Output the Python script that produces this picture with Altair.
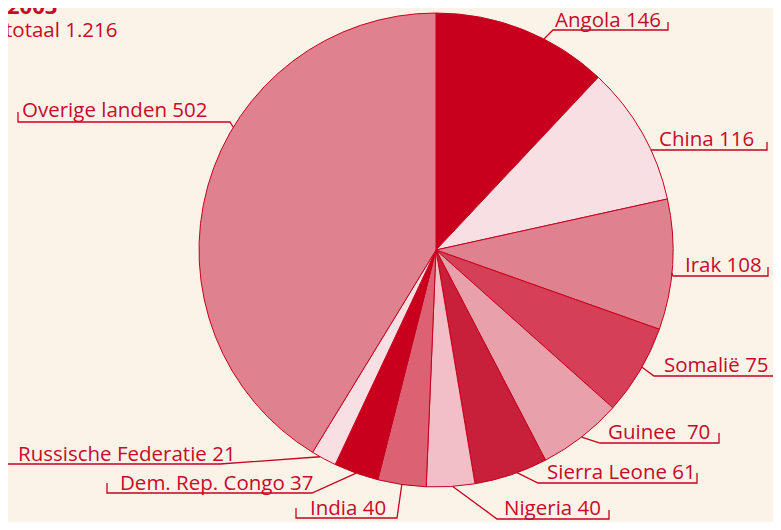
import math
import altair as alt
import pandas as pd

# ---- data ----
countries = ["Angola", "China", "Irak", "Somalië", "Guinee", "Sierra Leone",
             "Nigeria", "India", "Dem. Rep. Congo", "Russische Federatie", "Overige landen"]
values = [146, 116, 108, 75, 70, 61, 40, 40, 37, 21, 502]
label_texts = ["Angola 146", "China 116", "Irak 108", "Somalië 75", "Guinee\u00a0 70",
               "Sierra Leone 61", "Nigeria 40", "India 40", "Dem. Rep. Congo 37",
               "Russische Federatie 21", "Overige landen 502"]
title_text = "2003"
subtitle_text = "totaal 1.216"

# ---- style ----
RED = "#c8001e"
TEXT = "#c80a28"
BG = "#fbf2e8"
colors = ["#c8001e", "#f8dfe4", "#e0818f", "#d53f58", "#e8a0ab", "#c81f3a",
          "#f2bfc8", "#dc6173", "#c8001e", "#f8dfe4", "#e0818f"]
FONT = "Open Sans"
FS = 20.5
W, H = 765, 514
CX, CY, R = 428, 242, 237

# label layout (chart pixel coords): text x, baseline y, underline y,
# underline near end x, underline far end x, tick top y, attach-angle nudge (deg)
layout = [
    (547, 19, 22, 545, 660, 14, 5.5),
    (651, 138, 142, 644, 759, 134, 4.6),
    (677, 264, 268, 665, 760, 259, 2.0),
    (656, 364, 368, 646, 767, 359, -1.0),
    (600, 431, 435, 592, 711, 425, 0.0),
    (539, 471, 475, 530, 689, 465, -1.5),
    (496, 507, 511, 489, 601, 502, -0.5),
    (302, 507, 510, 389, 288, 500, 0.0),
    (112, 482, 485, 304, 99, 475, 0.0),
    (10, 453, 456, 212, -1, 447, 1.0),
    (14, 109, 114, 222, 10, 104, 15.5),
]

total = sum(values)
pie_df = pd.DataFrame({"country": countries, "value": values, "idx": list(range(len(values)))})

text_rows, line_rows = [], []
cum = 0
for i, (c, v) in enumerate(zip(countries, values)):
    tx, ty, uy, x_near, x_far, tick_y, nudge = layout[i]
    mid = (cum + v / 2) / total * 360 + nudge
    cum += v
    a = math.radians(mid)
    ax = CX + R * math.sin(a)
    ay = CY - R * math.cos(a)
    text_rows.append({"label": label_texts[i], "x": tx, "y": ty})
    pts = [(ax, ay), (x_near, uy), (x_far, uy), (x_far, tick_y)]
    for s, (px, py) in enumerate(pts):
        line_rows.append({"country": c, "seq": s, "x": px, "y": py})

text_df = pd.DataFrame(text_rows)
line_df = pd.DataFrame(line_rows)

xs = alt.Scale(domain=[0, W], range=[0, W])
ys = alt.Scale(domain=[0, H], range=[0, H])

pie = alt.Chart(pie_df).mark_arc(radius=R, stroke=RED, strokeWidth=1).encode(
    theta=alt.Theta("value:Q", stack=True),
    order=alt.Order("idx:Q"),
    color=alt.Color("country:N", scale=alt.Scale(domain=countries, range=colors), legend=None),
    x=alt.value(CX),
    y=alt.value(CY),
)

lines = alt.Chart(line_df).mark_line(color=RED, strokeWidth=1.3).encode(
    x=alt.X("x:Q", scale=xs, axis=None),
    y=alt.Y("y:Q", scale=ys, axis=None),
    detail="country:N",
    order="seq:Q",
)

labels = alt.Chart(text_df).mark_text(
    align="left", baseline="alphabetic", font=FONT, fontSize=FS, color=TEXT
).encode(
    x=alt.X("x:Q", scale=xs, axis=None),
    y=alt.Y("y:Q", scale=ys, axis=None),
    text="label:N",
)

t1 = pd.DataFrame({"t": [title_text], "x": [-1], "y": [6]})
t2 = pd.DataFrame({"t": [subtitle_text], "x": [-3], "y": [29]})
title = alt.Chart(t1).mark_text(
    align="left", baseline="alphabetic", font=FONT, fontSize=22, fontWeight="bold", color=TEXT
).encode(
    x=alt.X("x:Q", scale=xs, axis=None),
    y=alt.Y("y:Q", scale=ys, axis=None),
    text="t:N",
)
subtitle = alt.Chart(t2).mark_text(
    align="left", baseline="alphabetic", font=FONT, fontSize=FS, color=TEXT
).encode(
    x=alt.X("x:Q", scale=xs, axis=None),
    y=alt.Y("y:Q", scale=ys, axis=None),
    text="t:N",
)

chart = alt.layer(pie, lines, labels, title, subtitle).properties(
    width=W, height=H, padding=0,
    autosize=alt.AutoSizeParams(type="none"),
    background=BG,
).configure_view(strokeWidth=0)

chart.save("out.html", embed_options={"renderer": "svg", "actions": False})
